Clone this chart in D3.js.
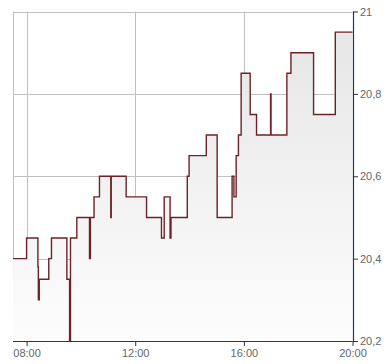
<!DOCTYPE html>
<html>
<head>
<meta charset="utf-8">
<script src="https://cdn.jsdelivr.net/npm/d3@7"></script>
<style>
  html, body { margin: 0; padding: 0; background: #fff; }
  svg { display: block; }
  text { font-family: "Liberation Sans", Arial, sans-serif; font-size: 11px; fill: #666; }
</style>
</head>
<body>
<svg id="chart" width="390" height="364"></svg>
<script>
// ---- data ----
const times = ["07:30","08:00","08:25","08:26","08:28","08:49","08:55","09:29","09:35","09:37","09:51",
  "10:19","10:21","10:29","10:41","11:06","11:07","11:40","12:25","12:58","13:04","13:17","13:19",
  "13:55","13:59","14:37","15:01","15:34","15:38","15:43","15:48","15:54","16:14","16:28",
  "16:59","17:00","17:35","17:44","18:34","19:22","20:00"];
const prices = [20.40,20.45,20.38,20.30,20.35,20.40,20.45,20.35,20.20,20.45,20.50,
  20.40,20.50,20.55,20.60,20.50,20.60,20.55,20.50,20.45,20.55,20.45,20.50,
  20.60,20.65,20.70,20.50,20.60,20.55,20.65,20.70,20.85,20.75,20.70,
  20.80,20.70,20.85,20.90,20.75,20.95,20.95];
const yTicks = [20.2, 20.4, 20.6, 20.8, 21.0];
const xTickLabels = ["08:00","12:00","16:00","20:00"];
const domainStart = "07:30", domainEnd = "20:00";

// ---- helpers ----
const parseT = s => { const [h,m] = s.split(":").map(Number); return new Date(2020,0,1,h,m); };
const data = times.map((t,i) => ({ t: parseT(t), v: prices[i] }));

const svg = d3.select("#chart");
const pLeft = 13, pRight = 352.5, pTop = 11.5, pBottom = 341;

const x = d3.scaleTime().domain([parseT(domainStart), parseT(domainEnd)]).range([pLeft, pRight]);
const y = d3.scaleLinear().domain([20.2, 21.0]).range([pBottom, pTop]);
const px = v => Math.round(v) + 0.5;

// gradient
const defs = svg.append("defs");
const grad = defs.append("linearGradient").attr("id","fillGrad")
  .attr("gradientUnits","userSpaceOnUse").attr("x1",0).attr("x2",0).attr("y1",pTop).attr("y2",pBottom);
grad.append("stop").attr("offset","0%").attr("stop-color","#e5e5e5");
grad.append("stop").attr("offset","100%").attr("stop-color","#fdfdfd");

// grid
const g = svg.append("g");
yTicks.filter(v => v > 20.2).forEach(v => {
  g.append("line").attr("x1", pLeft).attr("x2", pRight).attr("y1", px(y(v))).attr("y2", px(y(v)))
    .attr("stroke","#c0c0c0").attr("stroke-width",1);
});
g.append("line").attr("x1", px(pLeft)).attr("x2", px(pLeft)).attr("y1", pTop).attr("y2", pBottom)
  .attr("stroke","#c0c0c0");
xTickLabels.slice(0, -1).forEach(s => {
  g.append("line").attr("x1", px(x(parseT(s)))).attr("x2", px(x(parseT(s)))).attr("y1", pTop).attr("y2", pBottom)
    .attr("stroke","#c0c0c0");
});

// area + line
const area = d3.area().curve(d3.curveStepAfter).x(d => x(d.t)).y0(pBottom).y1(d => y(d.v));
const line = d3.line().curve(d3.curveStepAfter).x(d => x(d.t)).y(d => y(d.v));
svg.append("path").datum(data).attr("d", area).attr("fill","url(#fillGrad)");
svg.append("path").datum(data).attr("d", line).attr("fill","none")
  .attr("stroke","#6b2329").attr("stroke-width",1.4);

// axes
const axisColor = "#1d3a66";
const yAxis = d3.axisRight(y).tickValues(yTicks).tickSize(5).tickPadding(2)
  .tickFormat(v => d3.format(".1~f")(v).replace(".", ","));
const yg = svg.append("g").attr("transform", `translate(${px(pRight)-0.5},0)`).call(yAxis);
yg.select(".domain").attr("stroke", axisColor).attr("stroke-width",1.2)
  .attr("d", `M0.5,${pTop}V${pBottom}`);
yg.selectAll(".tick line").attr("stroke","#333");
yg.selectAll(".tick text").attr("fill","#666").style("font-size","11px");

const xAxis = d3.axisBottom(x).tickValues(xTickLabels.map(parseT)).tickSize(5).tickPadding(3)
  .tickFormat(d3.timeFormat("%H:%M"));
const xg = svg.append("g").attr("transform", `translate(0,${px(pBottom)-0.5})`).call(xAxis);
xg.select(".domain").attr("stroke", axisColor).attr("stroke-width",1.2)
  .attr("d", `M${pLeft},0.5H${pRight}`);
xg.selectAll(".tick line").attr("stroke","#333");
xg.selectAll(".tick text").attr("fill","#666").style("font-size","11px");
</script>
</body>
</html>
